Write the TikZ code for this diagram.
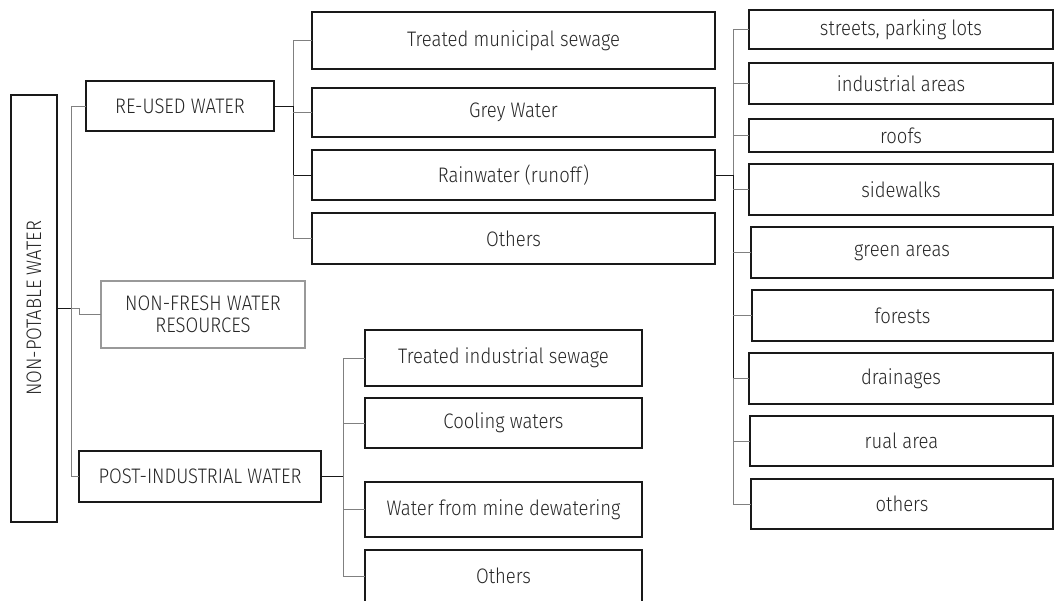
\documentclass[tikz,border=0pt]{standalone}
\usepackage{fontspec}
\setmainfont{Fira Sans Light}[FakeStretch=0.88]
\begin{document}
\begin{tikzpicture}[x=1pt,y=-1pt,
  box/.style={draw=black!90,line width=1.2pt,inner sep=0pt,outer sep=0pt,align=center,text=black!85,font=\fontsize{21}{24}\selectfont},
  gbox/.style={box,draw=black!40},
  blk/.style={draw=black!90,line width=1pt},
  gry/.style={draw=black!50,line width=0.8pt}]
\useasboundingbox (0,0) rectangle (1056,600);
% root and level 1
\node[box,minimum width=46,minimum height=427] (root) at (34,308.5) {\rotatebox{90}{NON-POTABLE WATER}};
\node[box,minimum width=188,minimum height=50] (reused) at (180,106) {RE-USED WATER};
\node[gbox,minimum width=204,minimum height=67] (nonfresh) at (203,314.5) {NON-FRESH WATER\\[-2pt]RESOURCES};
\node[box,minimum width=242,minimum height=51] (post) at (200,476.5) {POST-INDUSTRIAL WATER};
% level 2 re-used
\node[box,minimum width=403,minimum height=57] (tms) at (513.5,40.5) {Treated municipal sewage};
\node[box,minimum width=403,minimum height=49] (grey) at (513.5,112.5) {Grey Water};
\node[box,minimum width=403,minimum height=50] (rain) at (513.5,175) {Rainwater (runoff)};
\node[box,minimum width=403,minimum height=51] (oth1) at (513.5,238.5) {Others};
% level 2 post-industrial
\node[box,minimum width=277,minimum height=56] (tis) at (503.5,358) {Treated industrial sewage};
\node[box,minimum width=277,minimum height=50] (cool) at (503.5,423) {Cooling waters};
\node[box,minimum width=277,minimum height=55] (mine) at (503.5,509.5) {Water from mine dewatering};
\node[box,minimum width=277,minimum height=52] (oth2) at (503.5,576) {Others};
% level 3 rainwater
\node[box,minimum width=304,minimum height=39] (str) at (901,29.5) {streets, parking lots};
\node[box,minimum width=304,minimum height=41] (ind) at (901,83.5) {industrial areas};
\node[box,minimum width=304,minimum height=33] (roof) at (901,135.5) {roofs};
\node[box,minimum width=304,minimum height=51] (side) at (901,189.5) {sidewalks};
\node[box,minimum width=302,minimum height=51] (green) at (902,252.5) {green areas};
\node[box,minimum width=301,minimum height=51] (forest) at (902.5,315.5) {forests};
\node[box,minimum width=304,minimum height=51] (drain) at (901,378.5) {drainages};
\node[box,minimum width=303,minimum height=50] (rual) at (901.5,441) {rual area};
\node[box,minimum width=302,minimum height=50] (oth3) at (902,504) {others};
% bus coordinates
\coordinate (b0) at (71,308.5);
\coordinate (b1) at (293,106);
\coordinate (b2) at (733,175);
\coordinate (b3) at (343,476.5);
% root connectors
\draw[blk] (root.east) -- (b0);
\draw[gry] (reused.west) -- (reused.west -| b0) -- (post.west -| b0) -- (post.west);
\draw[gry] (b0) -- ++(8,0) -- ++(0,6) -- (nonfresh.west);
% re-used connectors
\draw[blk] (reused.east) -- (b1);
\draw[gry] (tms.west) -- (tms.west -| b1) -- (b1);
\draw[blk] (b1) -- (rain.west -| b1) -- (rain.west);
\draw[gry] (grey.west) -- (grey.west -| b1);
\draw[gry] (rain.west -| b1) -- (oth1.west -| b1) -- (oth1.west);
% rainwater connectors
\draw[blk] (rain.east) -- (b2);
\draw[gry] (str.west) -- (str.west -| b2) -- (b2);
\draw[gry] (ind.west) -- (ind.west -| b2);
\draw[gry] (roof.west) -- (roof.west -| b2);
\draw[blk] (b2) -- (drain.west -| b2);
\draw[gry] (side.west) -- (side.west -| b2);
\draw[gry] (green.west) -- (green.west -| b2);
\draw[gry] (forest.west) -- (forest.west -| b2);
\draw[gry] (drain.west) -- (drain.west -| b2) -- (oth3.west -| b2) -- (oth3.west);
\draw[gry] (rual.west) -- (rual.west -| b2);
% post-industrial connectors
\draw[blk] (post.east) -- (b3);
\draw[gry] (tis.west) -- (tis.west -| b3) -- (oth2.west -| b3) -- (oth2.west);
\draw[gry] (cool.west) -- (cool.west -| b3);
\draw[gry] (mine.west) -- (mine.west -| b3);
\end{tikzpicture}
\end{document}
